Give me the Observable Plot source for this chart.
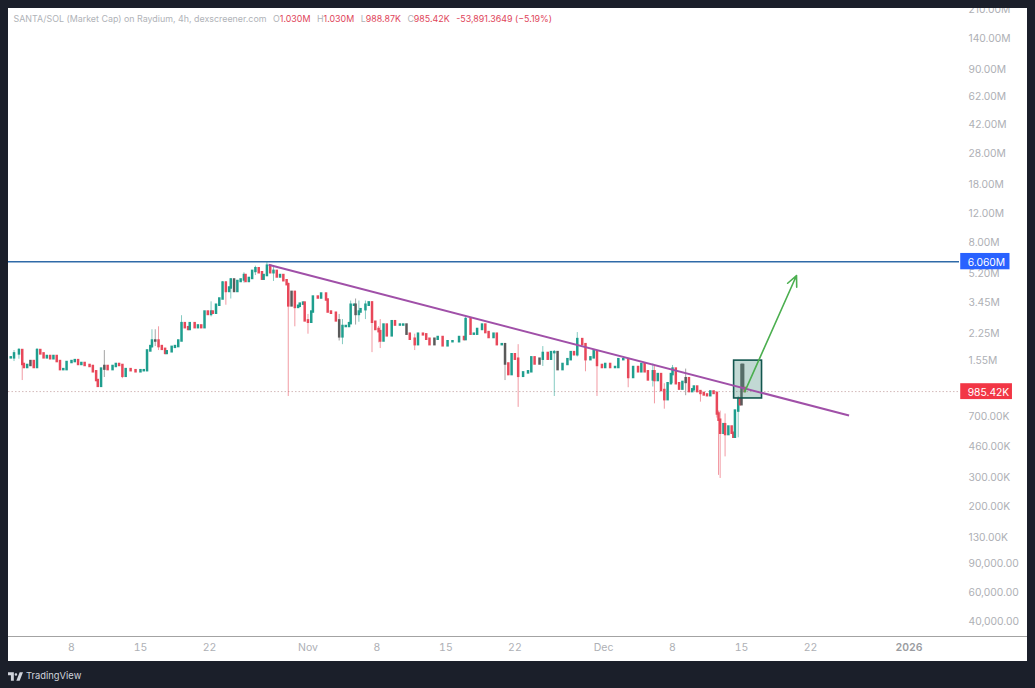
<!DOCTYPE html>
<html>
<head>
<meta charset="utf-8">
<script src="https://cdn.jsdelivr.net/npm/d3@7"></script>
<script src="https://cdn.jsdelivr.net/npm/@observablehq/plot@0.6"></script>
<style>
  html,body{margin:0;padding:0;background:#1b1f2a;width:1035px;height:688px;overflow:hidden;font-family:Inter,"Noto Sans",sans-serif}
  #panel{position:absolute;left:8px;top:8px;width:1019px;height:653px;background:#fff}
  #axisline{position:absolute;left:8px;top:636px;width:1019px;height:1px;background:#a3a3a3}
  #chart{position:absolute;left:0;top:0}
  #topbar{position:absolute;left:0;top:0;width:1035px;height:8px;background:#1b1f2a}
  #legend{position:absolute;left:13.5px;top:13px;font-size:8.9px;line-height:12px;color:#b0b3b8;white-space:nowrap}
  #legend b{font-weight:400;color:#e0455a}
  #legend span{margin-left:6.5px}
  #brand{position:absolute;left:8px;top:669px;height:14px;color:#d1d4dc;font-size:9.4px;line-height:14px;display:flex;align-items:center;gap:3px}
</style>
</head>
<body>
<div id="panel"></div>
<div id="axisline"></div>
<div id="chart"></div>
<div id="topbar"></div>
<div id="legend">SANTA/SOL (Market Cap) on Raydium, 4h, dexscreener.com<span>O<b>1.030M</b></span><span>H<b>1.030M</b></span><span>L<b>988.87K</b></span><span>C<b>985.42K</b></span><span><b>-53,891.3649 (−5.19%)</b></span></div>
<div id="brand"><svg width="15" height="9" viewBox="0 0 36 20"><path fill="#d1d4dc" d="M0 0h14v20H7V7H0zM16 5a3 3 0 1 0 0-.1zM28 0h8l-8 20h-8z"/></svg><span>TradingView</span></div>
<script>
// 4h bar number counted from 1 Oct 2025 00:00 UTC
const bars = [5,7,10,12,13,15,17,19,21,23,25,27,29,31,33,35,37,39,42,44,46,48,50,53,55,57,58,60,62,64,67,69,71,73,75,78,81,84,86,88,90,91,93,95,97,99,100,103,105,107,109,111,113,114,117,119,121,123,125,127,128,130,132,134,136,138,139,141,143,145,147,148,150,152,154,156,158,159,161,163,165,167,169,171,173,174,176,178,180,181,183,184,186,188,189,192,194,197,198,200,203,205,207,209,211,212,214,215,217,218,221,223,225,227,229,230,232,234,237,239,242,244,246,248,251,253,256,258,260,263,265,268,271,274,278,281,282,285,287,289,292,294,296,299,301,304,306,308,310,312,314,317,320,322,324,327,329,332,334,336,338,341,344,346,348,350,353,355,358,360,362,365,367,370,373,375,378,381,384,387,389,391,393,396,397,399,401,403,405,407,408,410,412,414,416,418,420,421,423,425,427,429,431,433,435,436,437,439,440,442,444,445,446,448,449,450,451,452];
// close of each bar, millions
const closes = [1.58,1.67,1.75,1.44,1.38,1.42,1.50,1.38,1.75,1.67,1.58,1.61,1.56,1.61,1.50,1.34,1.34,1.48,1.50,1.52,1.44,1.46,1.42,1.40,1.30,1.15,1.06,1.35,1.40,1.34,1.40,1.44,1.42,1.22,1.34,1.32,1.30,1.32,1.32,1.74,1.85,2.00,2.00,1.85,1.78,1.68,1.72,1.83,1.85,2.00,2.55,2.41,2.35,2.55,2.41,2.47,2.41,3.00,2.90,3.00,2.95,3.30,3.60,4.50,4.00,4.20,4.70,4.00,4.60,4.70,5.00,4.60,4.80,5.30,5.50,5.20,4.75,5.00,5.70,5.20,5.30,4.90,5.00,4.65,4.40,3.27,3.95,3.20,3.25,3.35,3.40,2.65,2.60,3.00,3.70,3.65,3.86,3.55,3.00,2.95,2.65,2.12,2.45,2.45,2.55,3.30,3.30,2.90,3.00,3.10,3.30,3.41,2.60,2.35,2.28,2.00,2.50,2.15,2.62,2.50,2.50,2.50,2.20,2.05,1.90,2.20,2.18,2.05,1.90,2.05,2.10,1.87,1.98,1.98,2.10,2.04,2.70,2.20,2.20,2.35,2.50,2.25,2.10,2.20,1.90,1.90,1.45,1.25,1.65,1.55,1.22,1.28,1.30,1.58,1.45,1.55,1.68,1.55,1.70,1.70,1.34,1.44,1.54,1.70,1.65,2.04,1.90,1.54,1.58,1.72,1.42,1.38,1.44,1.38,1.38,1.54,1.54,1.20,1.38,1.30,1.44,1.30,1.16,1.30,1.15,1.25,1.00,0.88,1.10,1.25,1.35,1.10,1.02,1.12,1.18,0.985,1.01,1.05,0.985,0.96,0.94,0.93,0.98,0.96,0.72,0.66,0.55,0.62,0.54,0.60,0.55,0.52,0.75,0.88,0.82,1.42,1.03,0.98542];
// bars with a visible wick, with its top and bottom in millions
const wickBars    = [7,10,12,21,62,73,91,93,95,109,127,134,136,139,147,154,161,165,174,178,186,205,207,212,215,217,221,225,229,230,251,282,306,314,329,336,350,355,362,381,396,397,403,408,416,425,435,436,437,440,448,450,451,452];
const wickTops    = [1.75,1.80,1.75,1.80,1.75,1.40,2.34,2.34,2.44,2.85,3.46,4.60,4.60,4.80,5.20,5.70,6.06,5.60,4.50,4.00,2.90,2.90,2.70,3.50,3.60,3.50,3.50,3.00,2.45,2.70,2.20,2.80,1.90,1.90,1.85,1.75,2.25,1.80,1.75,1.35,1.45,1.40,1.10,1.42,1.35,1.00,0.98,0.75,0.75,0.72,0.92,1.45,1.45,1.03];
const wickBottoms = [1.50,1.55,1.15,1.38,1.20,1.18,1.80,1.85,1.75,2.30,2.80,3.60,3.30,3.60,4.50,5.00,5.00,4.60,0.92,2.44,2.20,2.00,1.90,2.80,2.50,2.60,2.70,1.70,1.95,1.80,1.75,2.10,1.15,0.79,1.40,0.92,1.60,1.30,0.92,1.04,1.05,0.83,0.77,1.10,0.93,0.85,0.68,0.305,0.292,0.395,0.516,0.90,0.97,0.989];
// bars that read as dark grey in the picture
const darkBars = [17,62,93,141,176,205,215,246,263,306,327,338,416,450,451];

const yTicks = [210,140,90,62,42,28,18,12,8,5.2,3.45,2.25,1.55,0.7,0.46,0.3,0.2,0.13,0.09,0.06,0.04];
const yTickLabels = ["210.00M","140.00M","90.00M","62.00M","42.00M","28.00M","18.00M","12.00M","8.00M","5.20M","3.45M","2.25M","1.55M","700.00K","460.00K","300.00K","200.00K","130.00K","90,000.00","60,000.00","40,000.00"];
const xTicks = [[2025,9,8,"8"],[2025,9,15,"15"],[2025,9,22,"22"],[2025,10,1,"Nov"],[2025,10,8,"8"],[2025,10,15,"15"],[2025,10,22,"22"],[2025,11,1,"Dec"],[2025,11,8,"8"],[2025,11,15,"15"],[2025,11,22,"22"]];
const yearTick = new Date(Date.UTC(2026,0,1));

const resistance = 6.06;
const lastClose = 0.98542;
const trend = {x1:new Date(Date.UTC(2025,9,28,0)), y1:5.81, x2:new Date(Date.UTC(2025,11,25,22)), y2:0.705};
const zone = {x1:new Date(Date.UTC(2025,11,14,6)), x2:new Date(Date.UTC(2025,11,17,2)), y1:1.52, y2:0.895};
const target = {x1:new Date(Date.UTC(2025,11,15,8)), y1:0.985, x2:new Date(Date.UTC(2025,11,20,14)), y2:5.0};
const blueTag = {x1:new Date(Date.UTC(2026,0,6,6)), x2:new Date(Date.UTC(2026,0,11,6)), y1:6.81, y2:5.42};
const redTag  = {x1:new Date(Date.UTC(2026,0,6,6)), x2:new Date(Date.UTC(2026,0,11,12)), y1:1.10, y2:0.881};

const start = Date.UTC(2025,9,1);
const dateOf = b => new Date(start + b*4*3600e3);
const isDark = new Set(darkBars);
const candles = bars.map((b,i)=>{
  const c = closes[i], o = i ? closes[i-1] : c;
  return {date:dateOf(b), o:o*1e6, c:c*1e6, colour: isDark.has(b) ? "#5a5a5a" : (c>=o ? "#1f9e8e" : "#e8485a")};
});
const wicks = wickBars.map((b,i)=>{
  const j = bars.indexOf(b);
  return {date:dateOf(b), top:wickTops[i]*1e6, bottom:wickBottoms[i]*1e6, colour:candles[j].colour};
});
const M = v => v*1e6;
const xLabel = new Map(xTicks.map(t=>[+new Date(Date.UTC(t[0],t[1],t[2])), t[3]]));
const yRows = yTicks.map((t,i)=>({value:M(t), label:yTickLabels[i]}));

const plot = Plot.plot({
  width:1035, height:688,
  marginLeft:8, marginRight:76, marginTop:8, marginBottom:52,
  style:{background:"transparent", fontFamily:"Inter, sans-serif", overflow:"visible"},
  x:{type:"utc", domain:[new Date(Date.UTC(2025,9,1,14,33)), new Date(Date.UTC(2026,0,6,3))], range:[8,959], label:null},
  y:{type:"log", domain:[M(0.04),M(210)], range:[620,8], label:null, axis:null},
  marks:[
    Plot.text(yRows,{y:"value", text:"label", frameAnchor:"right", dx:9, dy:1, textAnchor:"start", fontSize:10.3, fill:"#aeb0b5"}),
    Plot.axisX([...xLabel.keys()].map(d=>new Date(d)),{anchor:"bottom", tickSize:0, tickPadding:7, label:null, fontSize:10.5, fill:"#aeb0b5", tickFormat:d=>xLabel.get(+d)}),
    Plot.axisX([yearTick],{anchor:"bottom", tickSize:0, tickPadding:7, label:null, fontSize:10.5, fontWeight:600, fill:"#9a9ca1", tickFormat:()=>"2026"}),
    Plot.ruleY([M(lastClose)],{stroke:"#c9a9a9", strokeWidth:0.8, strokeDasharray:"1.5,2"}),
    Plot.ruleY([M(resistance)],{stroke:"#2f6aa8", strokeWidth:1.5}),
    Plot.ruleX(wicks,{x:"date", y1:"bottom", y2:"top", stroke:"colour", strokeWidth:1, strokeOpacity:0.55}),
    Plot.ruleX(candles,{x:"date", y1:"o", y2:"c", stroke:"colour", strokeWidth:2.5, strokeLinecap:"square"}),
    Plot.rect([zone],{x1:"x1", x2:"x2", y1:d=>M(d.y1), y2:d=>M(d.y2), fill:"#4f9184", fillOpacity:0.35, stroke:"#12564e", strokeWidth:1.6}),
    Plot.link([trend],{x1:"x1", x2:"x2", y1:d=>M(d.y1), y2:d=>M(d.y2), stroke:"#a050a8", strokeWidth:2}),
    Plot.arrow([target],{x1:"x1", x2:"x2", y1:d=>M(d.y1), y2:d=>M(d.y2), stroke:"#4caf50", strokeWidth:1.6, bend:0, headLength:11, headAngle:50}),
    Plot.rect([blueTag],{x1:"x1", x2:"x2", y1:d=>M(d.y1), y2:d=>M(d.y2), fill:"#2962ff"}),
    Plot.rect([redTag],{x1:"x1", x2:"x2", y1:d=>M(d.y1), y2:d=>M(d.y2), fill:"#f23645"}),
    Plot.text([{x:blueTag.x1, y:M(resistance), t:"6.060M"}],{x:"x", y:"y", text:"t", dx:7, dy:1, textAnchor:"start", fill:"#fff", fontSize:10.3}),
    Plot.text([{x:redTag.x1, y:M(lastClose), t:"985.42K"}],{x:"x", y:"y", text:"t", dx:7, dy:1, textAnchor:"start", fill:"#fff", fontSize:10.3})
  ]
});
document.getElementById("chart").appendChild(plot);
</script>
</body>
</html>
